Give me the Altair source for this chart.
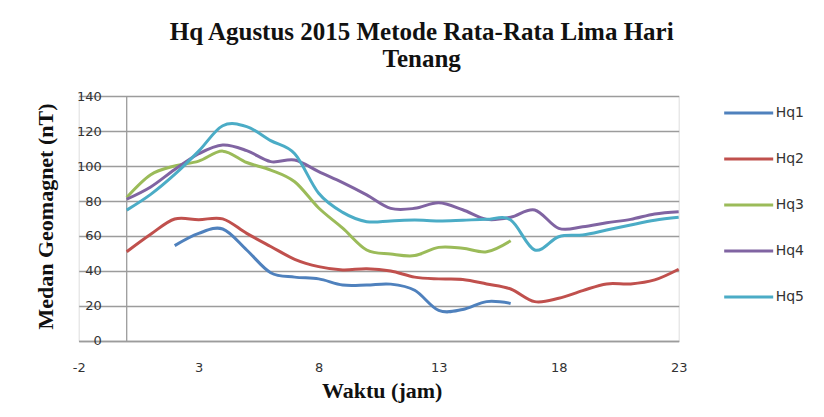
import altair as alt
import pandas as pd

hours = list(range(24))
series_names = ["Hq1", "Hq2", "Hq3", "Hq4", "Hq5"]
series_colors = ["#4F81BD", "#C0504D", "#9BBB59", "#8064A2", "#4BACC6"]

hq1 = [None, None, 54.5, 61.5, 64, 52, 39, 36.5, 35.5, 32, 32, 32.5, 29, 17.5, 18, 22.5, 21.5,
       None, None, None, None, None, None, None]
hq2 = [51, 61, 69.7, 69.3, 69.8, 61.5, 54, 46.7, 42.5, 40.6, 41.3, 40, 36.5, 35.5, 35.2, 32.6,
       29.7, 22.5, 24.4, 28.8, 32.6, 32.6, 34.9, 41]
hq3 = [82, 95, 100, 102.8, 108.5, 102, 97.7, 91, 76, 64.5, 52, 49.7, 48.8, 53.5, 53, 51, 57.3,
       None, None, None, None, None, None, None]
hq4 = [81, 88, 98, 107, 112, 108.8, 102.5, 103.4, 96.8, 90.5, 83.5, 75.8, 75.8, 79, 75, 69.5,
       70.7, 74.9, 64.4, 65.3, 67.6, 69.5, 72.6, 73.9]
hq5 = [74.8, 83.8, 95.2, 108.5, 123, 122.5, 114.5, 107, 84.4, 73.5, 68.2, 68.6, 69.1, 68.6, 69,
       69.5, 69.1, 52, 59.6, 60.6, 63.4, 66.3, 69, 70.7]

x_ticks = [-2, 3, 8, 13, 18, 23]
y_ticks = [0, 20, 40, 60, 80, 100, 120, 140]

rows = []
for name, vals in zip(series_names, [hq1, hq2, hq3, hq4, hq5]):
    for h, v in zip(hours, vals):
        if v is not None:
            rows.append({"jam": h, "nilai": v, "seri": name})
df = pd.DataFrame(rows)

GRID = "#9c9c9c"

lines = alt.Chart(df).mark_line(strokeWidth=3, interpolate="cardinal").encode(
    x=alt.X("jam:Q",
            scale=alt.Scale(domain=[-2, 23], nice=False, zero=False),
            axis=alt.Axis(values=x_ticks, grid=False, ticks=False, domainColor=GRID,
                          domainWidth=1.3, labelPadding=21, labelFont="DejaVu Sans",
                          labelFontSize=13, labelColor="#333333", labelFlush=False,
                          labelExpr="'' + datum.value",
                          title="Waktu  (jam)", titleFont="Liberation Serif",
                          titleFontSize=22, titleFontWeight="bold", titleColor="#111111",
                          titleBaseline="alphabetic", titleY=57, titleX=303)),
    y=alt.Y("nilai:Q",
            scale=alt.Scale(domain=[0, 140], nice=False),
            axis=alt.Axis(values=y_ticks, grid=True, gridColor=GRID, gridWidth=1.3,
                          domain=False, ticks=False, labelPadding=-22.5,
                          labelFont="DejaVu Sans", labelFontSize=13, labelColor="#333333",
                          title="Medan Geomagnet (nT)", titleFont="Liberation Serif",
                          titleFontSize=22, titleFontWeight="bold", titleColor="#111111",
                          titleBaseline="alphabetic", titleAngle=270, titleAlign="center",
                          titleX=-26, titleY=120)),
    color=alt.Color("seri:N",
                    scale=alt.Scale(domain=series_names, range=series_colors),
                    legend=alt.Legend(title=None, orient="none", legendX=644, legendY=-9,
                                      symbolType="stroke", symbolSize=2401,
                                      symbolStrokeWidth=3, labelFont="DejaVu Sans",
                                      labelFontSize=14, labelColor="#333333",
                                      labelOffset=1, rowPadding=13)),
)

yaxis_line = alt.Chart(pd.DataFrame({"jam": [0]})).mark_rule(color=GRID, strokeWidth=1.3).encode(
    x="jam:Q"
)

chart = alt.layer(yaxis_line, lines).properties(
    width=600,
    height=245,
    title=alt.TitleParams(
        text=["Hq Agustus 2015 Metode Rata-Rata Lima Hari", "Tenang"],
        font="Liberation Serif", fontSize=25, fontWeight="bold", color="#111111",
        lineHeight=27, anchor="middle", frame="group", baseline="bottom",
        offset=23, dx=43, dy=33,
    ),
    autosize=alt.AutoSizeParams(type="none"),
    padding={"left": 70.7, "top": 88, "right": 137, "bottom": 66},
).configure_view(stroke=None).configure(background="white")

chart.save("out.html", embed_options={"renderer": "svg", "actions": False})
